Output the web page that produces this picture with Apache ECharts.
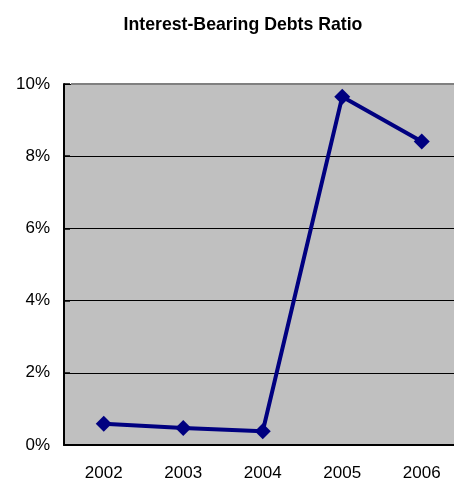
<!DOCTYPE html>
<html><head><meta charset="utf-8">
<script src="https://cdn.jsdelivr.net/npm/echarts@6/dist/echarts.min.js"></script>
<style>html,body{margin:0;padding:0;background:#fff;overflow:hidden;width:454px;height:482px}#c{width:462px;height:482px}</style>
</head><body><div id="c"></div>
<script>
const categories = ['2002','2003','2004','2005','2006'];
const ratioValues = [0.59, 0.47, 0.38, 9.65, 8.41];
const yTicks = [0, 2, 4, 6, 8, 10];

const chart = echarts.init(document.getElementById('c'), null, {renderer:'canvas'});
chart.setOption({
  animation:false,
  title:{text:'Interest-Bearing Debts Ratio', left:238, top:11, textAlign:'center',
    textStyle:{fontFamily:'Liberation Sans, Arial', fontSize:17.7, fontWeight:'bold', color:'#000'}},
  grid:{left:64, top:84, width:397.5, height:363, backgroundColor:'#C0C0C0', show:true, borderWidth:0},
  xAxis:{type:'category', data:categories, boundaryGap:true,
    axisLine:{lineStyle:{color:'#000', width:2}},
    axisTick:{inside:true, length:6, lineStyle:{color:'#000', width:1.5}},
    axisLabel:{fontFamily:'Liberation Sans, Arial', fontSize:17, color:'#000', margin:20}},
  yAxis:{type:'value', min:0, max:10, interval:2,
    axisLine:{show:true, lineStyle:{color:'#000', width:2}},
    axisTick:{show:true, inside:true, length:6, lineStyle:{color:'#000', width:1.5}},
    splitLine:{lineStyle:{color:'#000', width:1}},
    axisLabel:{fontFamily:'Liberation Sans, Arial', fontSize:17, color:'#000', margin:14,
      formatter:v=> yTicks.includes(v) ? v+'%' : ''}},
  series:[{type:'line', data:ratioValues, symbol:'diamond', symbolSize:16,
    lineStyle:{color:'#000080', width:4}, itemStyle:{color:'#000080'}}],
  graphic:[{type:'line', shape:{x1:71, y1:84, x2:462, y2:84}, style:{stroke:'#808080', lineWidth:2}, z:1}]
});
</script></body></html>
